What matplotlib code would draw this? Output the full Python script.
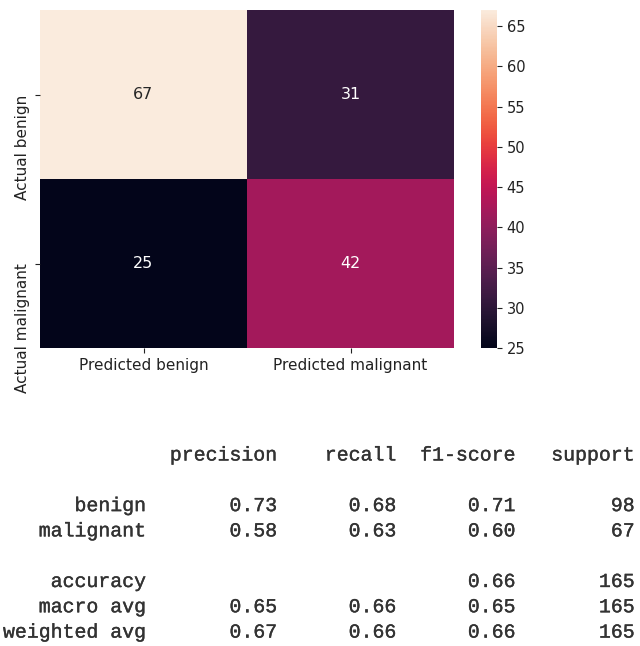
import matplotlib
matplotlib.use("Agg")
import matplotlib.pyplot as plt
import matplotlib.patheffects as pe
import numpy as np
import seaborn as sns

# Confusion matrix counts (rows: actual, columns: predicted)
row_labels = ["Actual benign", "Actual malignant"]
col_labels = ["Predicted benign", "Predicted malignant"]
counts = [[67, 31],
          [25, 42]]

# Classification report values
class_names = ["benign", "malignant"]
precision = [0.73, 0.58]
recall = [0.68, 0.63]
f1_score = [0.71, 0.60]
support = [98, 67]
accuracy = 0.66
total_support = 165
macro_avg = [0.65, 0.66, 0.65]
weighted_avg = [0.67, 0.66, 0.66]
report_headers = ["precision", "recall", "f1-score", "support"]

W, H = 640, 646
fig = plt.figure(figsize=(W / 100, H / 100), dpi=100)
fig.patch.set_facecolor("white")

def frac_box(x0, y0, x1, y1):
    return [x0 / W, 1 - y1 / H, (x1 - x0) / W, (y1 - y0) / H]

ax = fig.add_axes(frac_box(40, 10, 454, 348))
cax = fig.add_axes(frac_box(481, 10, 497, 348))

data = np.array(counts)
sns.heatmap(data, annot=True, fmt="d", cmap="rocket", ax=ax, cbar_ax=cax,
            xticklabels=col_labels, yticklabels=row_labels,
            annot_kws={"fontsize": 11.5})

ax.tick_params(axis="both", labelsize=11, colors="#222222")
for lbl in ax.get_yticklabels():
    lbl.set_rotation(90)
    lbl.set_va("top")
    lbl.set_ha("right")
for lbl in ax.get_xticklabels():
    lbl.set_rotation(0)

cax.set_yticks([25, 30, 35, 40, 45, 50, 55, 60, 65])
cax.tick_params(labelsize=10.5, colors="#222222")

# Text report in the layout of sklearn's classification_report
width = 12
lines = []
lines.append(" " * width + " " + "".join(f" {h:>9}" for h in report_headers))
lines.append("")
for name, p, r, f, s in zip(class_names, precision, recall, f1_score, support):
    lines.append(f"{name:>{width}} " + f" {p:>9.2f} {r:>9.2f} {f:>9.2f} {s:>9}")
lines.append("")
lines.append(f"{'accuracy':>{width}} " + f" {'':>9} {'':>9} {accuracy:>9.2f} {total_support:>9}")
lines.append(f"{'macro avg':>{width}} " + " " + " ".join(f"{v:>9.2f}" for v in macro_avg) + f" {total_support:>9}")
lines.append(f"{'weighted avg':>{width}} " + " " + " ".join(f"{v:>9.2f}" for v in weighted_avg) + f" {total_support:>9}")

y0 = 455
dy = 25.3
thicken = [pe.withStroke(linewidth=0.25, foreground="#333333")]
for i, line in enumerate(lines):
    if line:
        fig.text(3 / W, 1 - (y0 + i * dy) / H, line, family="Liberation Mono",
                 fontsize=14.3, color="#333333", ha="left", va="center",
                 path_effects=thicken)

fig.savefig("out.png", dpi=100, facecolor="white")
